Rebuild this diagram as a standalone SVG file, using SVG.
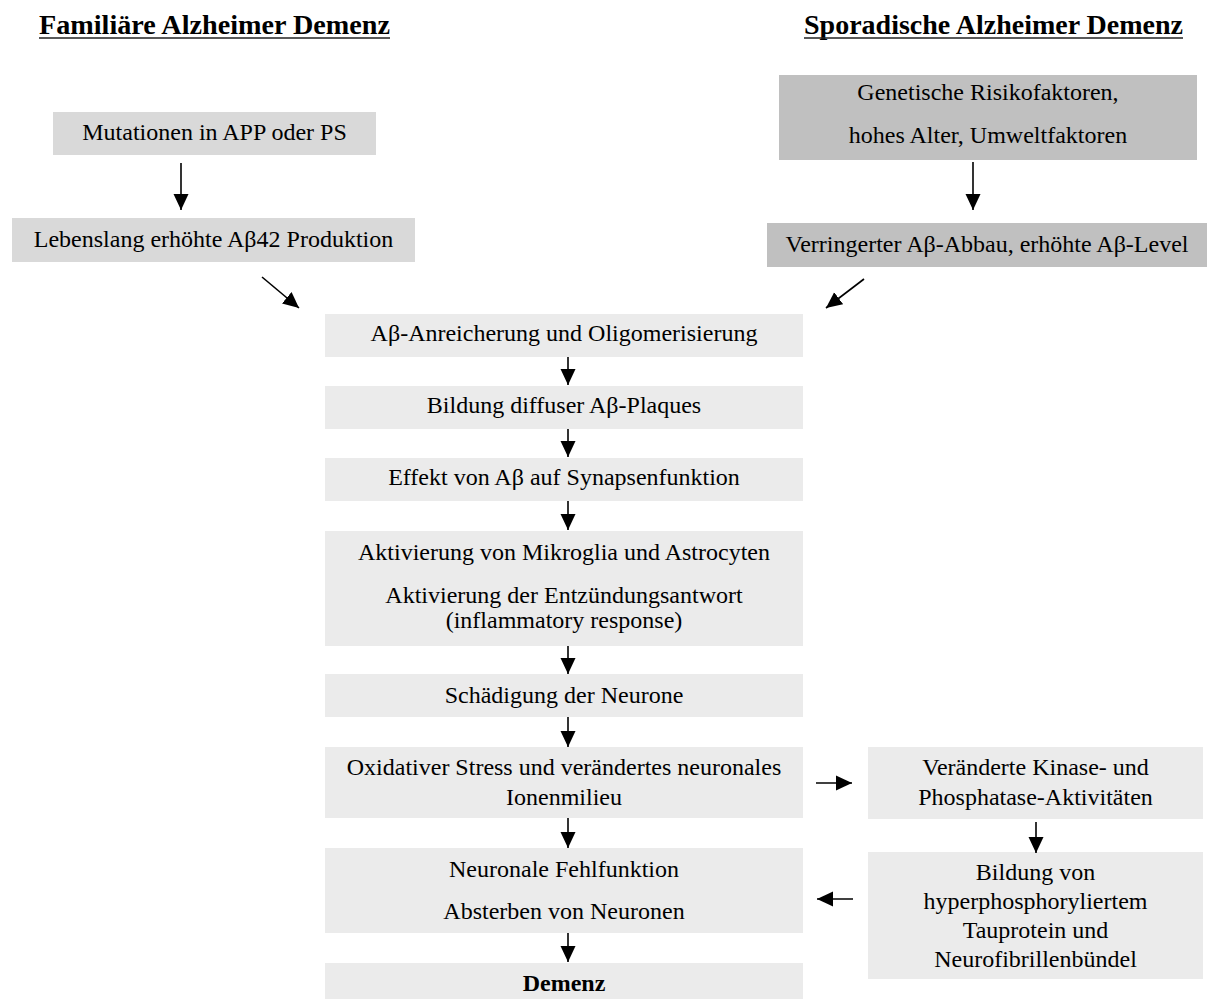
<svg xmlns="http://www.w3.org/2000/svg" width="1209" height="999" viewBox="0 0 1209 999">
<style>
text{font-family:"Liberation Serif","Times New Roman",serif;font-size:24px;fill:#000;text-anchor:middle}
.title{font-weight:bold;font-size:27px}
.b{font-weight:bold}
.fam{fill:#d9d9d9}
.spo{fill:#c0c0c0}
.main{fill:#ebebeb}
.conn line{stroke:#000;stroke-width:1.6;marker-end:url(#ah)}
</style>
<defs>
<marker id="ah" markerUnits="userSpaceOnUse" markerWidth="16" markerHeight="16" viewBox="0 0 16 16" refX="16" refY="8" orient="auto">
<path d="M0,0.5 L16,8 L0,15.5 z" fill="#000"/>
</marker>
</defs>
<rect width="1209" height="999" fill="#fff"/>

<g id="title-familial">
<text class="title" x="214.5" y="34" textLength="351" lengthAdjust="spacingAndGlyphs">Familiäre Alzheimer Demenz</text>
<line x1="39" y1="38" x2="390" y2="38" stroke="#222" stroke-width="1.6"/>
</g>
<g id="title-sporadic">
<text class="title" x="993.5" y="34" textLength="379" lengthAdjust="spacingAndGlyphs">Sporadische Alzheimer Demenz</text>
<line x1="804" y1="38" x2="1183" y2="38" stroke="#222" stroke-width="1.6"/>
</g>

<g id="n-mutationen">
<rect class="fam" x="53" y="112" width="323" height="43"/>
<text x="214.5" y="140">Mutationen in APP oder PS</text>
</g>
<g id="n-lebenslang">
<rect class="fam" x="12" y="218" width="403" height="44"/>
<text x="213.5" y="247">Lebenslang erhöhte Aβ42 Produktion</text>
</g>
<g id="n-genetisch">
<rect class="spo" x="779" y="75" width="418" height="85"/>
<text x="988" y="100">Genetische Risikofaktoren,</text>
<text x="988" y="143">hohes Alter, Umweltfaktoren</text>
</g>
<g id="n-verringert">
<rect class="spo" x="767" y="223" width="440" height="44"/>
<text x="987" y="252">Verringerter Aβ-Abbau, erhöhte Aβ-Level</text>
</g>

<g id="n-anreicherung">
<rect class="main" x="325" y="314" width="478" height="43"/>
<text x="564" y="341">Aβ-Anreicherung und Oligomerisierung</text>
</g>
<g id="n-plaques">
<rect class="main" x="325" y="386" width="478" height="43"/>
<text x="564" y="413">Bildung diffuser Aβ-Plaques</text>
</g>
<g id="n-synapsen">
<rect class="main" x="325" y="458" width="478" height="43"/>
<text x="564" y="485">Effekt von Aβ auf Synapsenfunktion</text>
</g>
<g id="n-aktivierung">
<rect class="main" x="325" y="531" width="478" height="115"/>
<text x="564" y="560">Aktivierung von Mikroglia und Astrocyten</text>
<text x="564" y="603">Aktivierung der Entzündungsantwort</text>
<text x="564" y="628">(inflammatory response)</text>
</g>
<g id="n-schaedigung">
<rect class="main" x="325" y="674" width="478" height="43"/>
<text x="564" y="703">Schädigung der Neurone</text>
</g>
<g id="n-oxidativ">
<rect class="main" x="325" y="747" width="478" height="71"/>
<text x="564" y="775">Oxidativer Stress und verändertes neuronales</text>
<text x="564" y="805">Ionenmilieu</text>
</g>
<g id="n-fehlfunktion">
<rect class="main" x="325" y="848" width="478" height="85"/>
<text x="564" y="877">Neuronale Fehlfunktion</text>
<text x="564" y="919">Absterben von Neuronen</text>
</g>
<g id="n-demenz">
<rect class="main" x="325" y="963" width="478" height="36"/>
<text class="b" x="564" y="991">Demenz</text>
</g>

<g id="n-kinase">
<rect class="main" x="868" y="747" width="335" height="72"/>
<text x="1035.5" y="775">Veränderte Kinase- und</text>
<text x="1035.5" y="805">Phosphatase-Aktivitäten</text>
</g>
<g id="n-tau">
<rect class="main" x="868" y="852" width="335" height="127"/>
<text x="1035.5" y="880">Bildung von</text>
<text x="1035.5" y="909">hyperphosphoryliertem</text>
<text x="1035.5" y="938">Tauprotein und</text>
<text x="1035.5" y="967">Neurofibrillenbündel</text>
</g>

<g id="connectors" class="conn">
<line x1="181" y1="163" x2="181" y2="210"/>
<line x1="973" y1="162" x2="973" y2="210"/>
<line x1="262" y1="277" x2="299" y2="308"/>
<line x1="864" y1="279" x2="826" y2="308"/>
<line x1="568" y1="357" x2="568" y2="385"/>
<line x1="568" y1="429" x2="568" y2="457"/>
<line x1="568" y1="501" x2="568" y2="530"/>
<line x1="568" y1="646" x2="568" y2="674"/>
<line x1="568" y1="717" x2="568" y2="747"/>
<line x1="568" y1="818" x2="568" y2="848"/>
<line x1="568" y1="933" x2="568" y2="962"/>
<line x1="816" y1="783" x2="852" y2="783"/>
<line x1="1036" y1="822" x2="1036" y2="853"/>
<line x1="853" y1="899" x2="817" y2="899"/>
</g>
</svg>
